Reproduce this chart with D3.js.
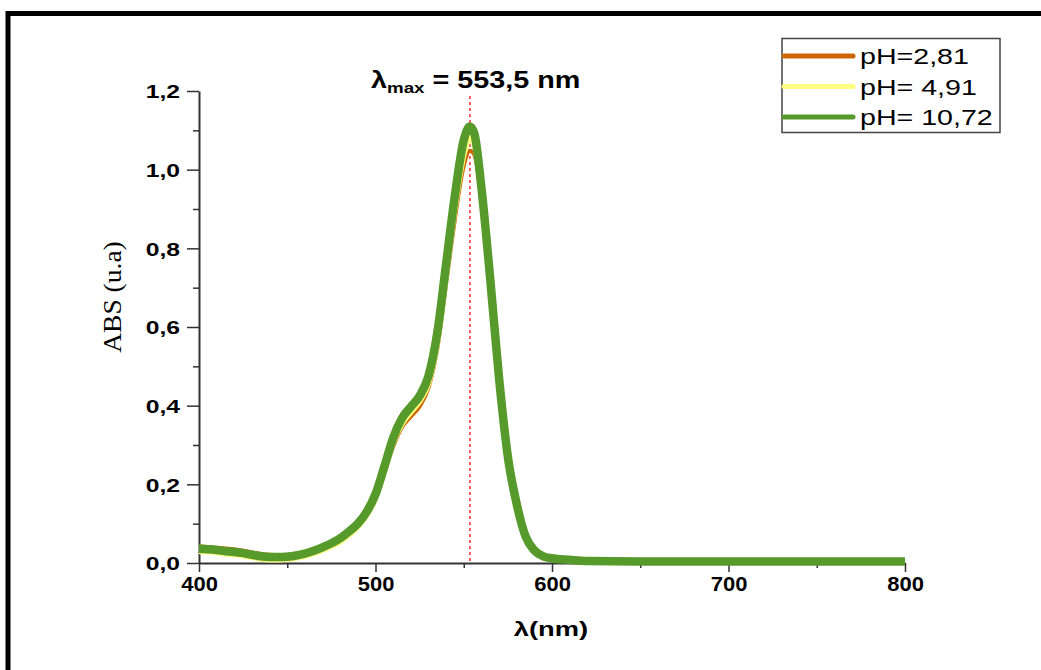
<!DOCTYPE html>
<html>
<head>
<meta charset="utf-8">
<script src="https://cdn.jsdelivr.net/npm/d3@7"></script>
<style>
  html, body { margin: 0; padding: 0; background: #ffffff; }
  svg { display: block; }
</style>
</head>
<body>
<svg id="chart" width="1041" height="670"></svg>
<script>
// UV-Vis absorption spectra at three pH values
const wavelengths = [400, 405, 410, 415, 420, 425, 430, 435, 440, 445, 450, 455, 460, 465, 470, 475, 480, 485, 490, 495,
  500, 505, 510, 515, 520, 525, 530, 535, 540, 545, 550, 553.5, 556, 560, 565, 570, 575, 580, 585, 590, 595,
  600, 610, 620, 650, 700, 750, 800];

const absPH281 = [0.042, 0.041, 0.039, 0.037, 0.035, 0.031, 0.027, 0.023, 0.021, 0.020, 0.021, 0.023, 0.027, 0.033, 0.041, 0.050, 0.061, 0.077, 0.096, 0.124,
  0.164, 0.228, 0.296, 0.345, 0.372, 0.398, 0.445, 0.545, 0.710, 0.875, 1.010, 1.048, 1.038, 0.928, 0.716, 0.475, 0.265, 0.152, 0.075, 0.038, 0.021,
  0.015, 0.010, 0.008, 0.007, 0.006, 0.006, 0.006];

const absPH491 = [0.030, 0.029, 0.027, 0.024, 0.022, 0.019, 0.015, 0.011, 0.009, 0.009, 0.010, 0.013, 0.018, 0.025, 0.033, 0.043, 0.055, 0.072, 0.093, 0.122,
  0.166, 0.235, 0.307, 0.355, 0.384, 0.412, 0.458, 0.562, 0.735, 0.905, 1.040, 1.080, 1.066, 0.942, 0.718, 0.472, 0.262, 0.148, 0.071, 0.034, 0.018,
  0.012, 0.007, 0.005, 0.004, 0.004, 0.004, 0.004];

const absPH1072 = [0.036, 0.035, 0.033, 0.030, 0.028, 0.025, 0.021, 0.017, 0.015, 0.015, 0.016, 0.019, 0.024, 0.031, 0.040, 0.050, 0.063, 0.080, 0.100, 0.130,
  0.175, 0.245, 0.318, 0.368, 0.397, 0.425, 0.475, 0.585, 0.760, 0.935, 1.075, 1.110, 1.092, 0.955, 0.722, 0.470, 0.270, 0.150, 0.068, 0.032, 0.017,
  0.012, 0.008, 0.005, 0.004, 0.004, 0.004, 0.004];

const seriesNames = ["pH=2,81", "pH= 4,91", "pH= 10,72"];
const seriesColors = ["#cc6600", "#ffff80", "#559a2b"];
const seriesWidths = [4, 6, 8.5];

const xMajorTicks = [400, 500, 600, 700, 800];
const xMinorTicks = [450, 550, 650, 750];
const yMajorTicks = [0, 0.2, 0.4, 0.6, 0.8, 1.0, 1.2];
const yMinorTicks = [0.1, 0.3, 0.5, 0.7, 0.9, 1.1];

const lambdaMax = 553.5;
const xTitle = "λ(nm)";
const yTitle = "ABS (u.a)";

const svg = d3.select("#chart");
const comma = v => d3.format(".1f")(v).replace(".", ",");

// Stretch a text element horizontally by factor k
function stretch(sel, k) {
  sel.each(function () {
    const len = this.getComputedTextLength();
    d3.select(this).attr("textLength", len * k).attr("lengthAdjust", "spacingAndGlyphs");
  });
}

// Outer frame
svg.append("rect")
  .attr("x", 8).attr("y", 13.5)
  .attr("width", 1100).attr("height", 700)
  .attr("fill", "none").attr("stroke", "#000").attr("stroke-width", 5);

const x = d3.scaleLinear().domain([400, 800]).range([199, 905]);
const y = d3.scaleLinear().domain([0, 1.2]).range([563, 91]);

// Axes
const axisColor = "#333";
const gx = svg.append("g").attr("transform", `translate(0,${y(0)})`);
gx.call(d3.axisBottom(x).tickValues(xMajorTicks).tickSize(9).tickSizeOuter(0).tickFormat(d3.format("d")));
const gxMinor = svg.append("g").attr("transform", `translate(0,${y(0)})`);
gxMinor.call(d3.axisBottom(x).tickValues(xMinorTicks).tickSize(5).tickSizeOuter(0).tickFormat(""));
gxMinor.select(".domain").remove();

const gy = svg.append("g").attr("transform", `translate(${x(400)},0)`);
gy.call(d3.axisLeft(y).tickValues(yMajorTicks).tickSize(12).tickSizeOuter(0).tickFormat(comma));
const gyMinor = svg.append("g").attr("transform", `translate(${x(400)},0)`);
gyMinor.call(d3.axisLeft(y).tickValues(yMinorTicks).tickSize(6).tickSizeOuter(0).tickFormat(""));
gyMinor.select(".domain").remove();

svg.selectAll(".domain").attr("stroke", axisColor).attr("stroke-width", 2);
svg.selectAll(".tick line").attr("stroke", axisColor).attr("stroke-width", 1.5);

gx.selectAll(".tick text")
  .attr("y", 14).attr("dy", "0.71em")
  .attr("font-family", "Liberation Sans, Arial, sans-serif")
  .attr("font-weight", "bold").attr("font-size", 20).attr("fill", "#000")
  .call(stretch, 1.1);

gy.selectAll(".tick text")
  .attr("x", -19).attr("dy", "0.36em")
  .attr("font-family", "Liberation Sans, Arial, sans-serif")
  .attr("font-weight", "bold").attr("font-size", 19).attr("fill", "#000")
  .call(stretch, 1.3);

// Axis titles
svg.append("text")
  .attr("x", 551).attr("y", 636)
  .attr("text-anchor", "middle")
  .attr("font-family", "Liberation Sans, Arial, sans-serif")
  .attr("font-weight", "bold").attr("font-size", 21)
  .text(xTitle)
  .call(stretch, 1.3);

svg.append("text")
  .attr("transform", "translate(121,297) rotate(-90)")
  .attr("text-anchor", "middle")
  .attr("font-family", "Liberation Serif, Times New Roman, serif")
  .attr("font-size", 25)
  .text(yTitle)
  .call(stretch, 1.1);

// λmax marker
svg.append("line")
  .attr("x1", x(lambdaMax)).attr("x2", x(lambdaMax))
  .attr("y1", 96).attr("y2", y(0))
  .attr("stroke", "#ff2a2a").attr("stroke-width", 1.5)
  .attr("stroke-dasharray", "3,3");

const title = svg.append("text")
  .attr("x", 371).attr("y", 88)
  .attr("font-family", "Liberation Sans, Arial, sans-serif")
  .attr("font-weight", "bold").attr("font-size", 23).attr("fill", "#000");
title.append("tspan").text("λ");
title.append("tspan").attr("font-size", 15).attr("dy", 5).text("max");
title.append("tspan").attr("dy", -5).text(" = " + comma(lambdaMax) + " nm");
title.call(stretch, 1.25);

// Spectra
const line = d3.line()
  .x((d, i) => x(wavelengths[i]))
  .y(d => y(d))
  .curve(d3.curveMonotoneX);

const series = [absPH281, absPH491, absPH1072];
svg.append("g").selectAll("path")
  .data(series)
  .join("path")
  .attr("d", d => line(d))
  .attr("fill", "none")
  .attr("stroke", (d, i) => seriesColors[i])
  .attr("stroke-width", (d, i) => seriesWidths[i])
  .attr("stroke-linejoin", "round");

// Legend
const legend = svg.append("g");
legend.append("rect")
  .attr("x", 782).attr("y", 38.5)
  .attr("width", 218).attr("height", 94)
  .attr("fill", "#fff").attr("stroke", "#444").attr("stroke-width", 1.5);

const rows = legend.selectAll("g.row")
  .data(seriesNames)
  .join("g").attr("class", "row")
  .attr("transform", (d, i) => `translate(0,${56 + i * 30.5})`);
rows.append("line")
  .attr("x1", 784).attr("x2", 853)
  .attr("stroke", (d, i) => seriesColors[i])
  .attr("stroke-width", 5).attr("stroke-linecap", "round");
rows.append("text")
  .attr("x", 860).attr("y", 8)
  .attr("font-family", "Liberation Sans, Arial, sans-serif")
  .attr("font-size", 22).attr("fill", "#000")
  .text(d => d)
  .call(stretch, 1.3);
</script>
</body>
</html>
